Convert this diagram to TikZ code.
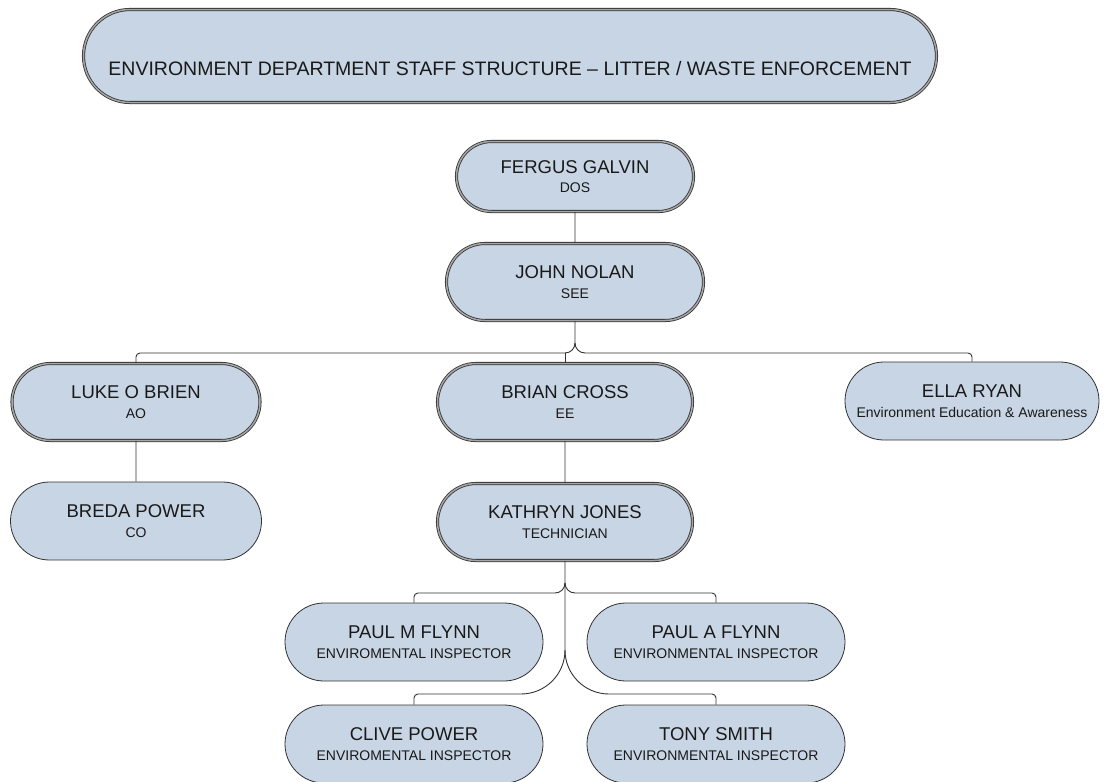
\documentclass[tikz,border=0pt]{standalone}
\usepackage{fontspec}
\setmainfont{Liberation Sans}
\usetikzlibrary{shapes.misc}
\definecolor{boxfill}{HTML}{C8D5E4}
\definecolor{edge}{HTML}{333333}
\tikzset{
	staff/.style={rounded rectangle, draw=edge, fill=boxfill, line width=0.8pt,
		minimum width=262pt, minimum height=78pt, inner sep=2pt, align=center,
		text=black!90, font=\fontsize{14}{19.5}\selectfont},
	head/.style={staff, draw=black!80, double=black!35, double distance=1.5pt, line width=0.8pt},
	conn/.style={draw=edge, line width=0.9pt},
}
\newcommand{\who}[2]{{\fontsize{18.5}{22}\selectfont #1}\\#2}
\begin{document}
\begin{tikzpicture}[x=1pt,y=-1pt]
	\useasboundingbox (0,0) rectangle (1104,782);
	% title
	\node[head, minimum width=857pt, minimum height=93pt, text height=38pt, text depth=0pt,
		font=\fontsize{19.5}{23}\selectfont] (title) at (510,56)
		{ENVIRONMENT DEPARTMENT STAFF STRUCTURE -- LITTER / WASTE ENFORCEMENT};
	% staff
	\node[head, minimum width=241pt, minimum height=70pt] (galvin) at (575,176.5) {\who{FERGUS GALVIN}{DOS}};
	\node[head, minimum width=261pt, minimum height=77pt] (nolan) at (575,282) {\who{JOHN NOLAN}{SEE}};
	\node[head, minimum width=252pt, minimum height=77pt] (obrien) at (136,402) {\who{LUKE O BRIEN}{AO}};
	\node[head, minimum width=259pt, minimum height=77pt] (cross) at (565,402) {\who{BRIAN CROSS}{EE}};
	\node[staff, minimum width=258pt] (ryan) at (972,401) {\who{ELLA RYAN}{Environment Education \& Awareness}};
	\node[staff, minimum width=255pt] (breda) at (136,521) {\who{BREDA POWER}{CO}};
	\node[head, minimum width=259pt, minimum height=77pt] (jones) at (565,522) {\who{KATHRYN JONES}{TECHNICIAN}};
	\node[staff] (mflynn) at (414,642) {\who{PAUL M FLYNN}{ENVIROMENTAL INSPECTOR}};
	\node[staff] (aflynn) at (716,642) {\who{PAUL A FLYNN}{ENVIRONMENTAL INSPECTOR}};
	\node[staff] (clive) at (414,744) {\who{CLIVE POWER}{ENVIROMENTAL INSPECTOR}};
	\node[staff] (smith) at (716,744) {\who{TONY SMITH}{ENVIRONMENTAL INSPECTOR}};
	% connectors
	\coordinate (split) at (575,343);
	\coordinate (bus) at (575,353);
	\draw[conn] (galvin) -- (nolan);
	\draw[conn] (nolan.south) -- (split) to[out=-90,in=0] (565,353) [rounded corners=4pt] -| (obrien.north);
	\draw[conn] (split) to[out=-90,in=180] (585,353) [rounded corners=4pt] -| (ryan.north);
	\draw[conn] (cross.north) -- (cross.north |- bus);
	\draw[conn] (obrien) -- (breda);
	\draw[conn] (cross) -- (jones);
	\coordinate (fork) at (565,583);
	\coordinate (bend) at (565,650);
	\draw[conn] (jones.south) -- (fork) to[out=-90,in=0] (555,593) [rounded corners=4pt] -| (mflynn.north);
	\draw[conn] (fork) to[out=-90,in=180] (575,593) [rounded corners=4pt] -| (aflynn.north);
	\draw[conn] (fork) -- (bend) to[out=-90,in=0] (521,694) [rounded corners=4pt] -| (clive.north);
	\draw[conn] (bend) to[out=-90,in=180] (609,694) [rounded corners=4pt] -| (smith.north);
\end{tikzpicture}
\end{document}
